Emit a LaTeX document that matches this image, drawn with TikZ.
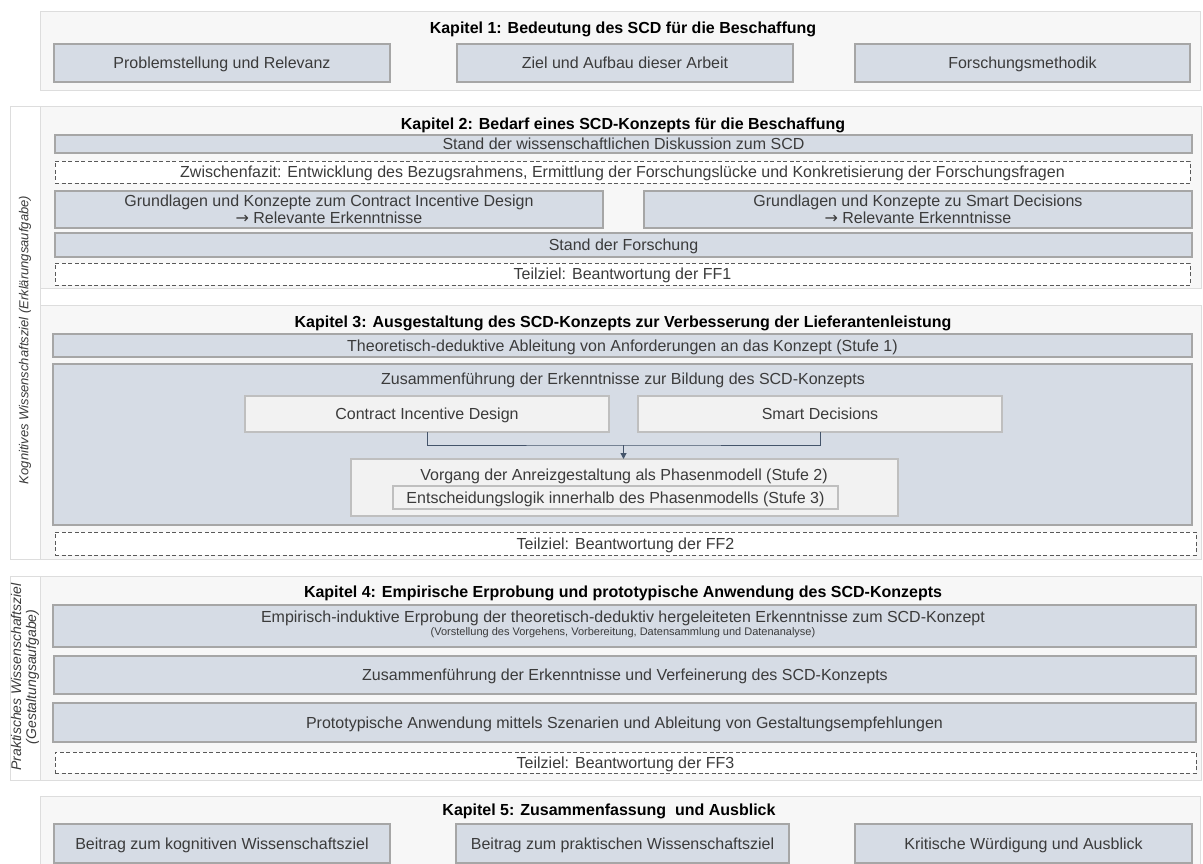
\documentclass[tikz,border=0pt]{standalone}
\usepackage{fontspec}
\setmainfont{Liberation Sans}
\newfontfamily\arrfont{DejaVu Sans}
\usetikzlibrary{arrows.meta}
\definecolor{panelfill}{HTML}{F7F7F7}
\definecolor{panelline}{HTML}{DDDDDD}
\definecolor{subfill}{HTML}{D6DCE5}
\definecolor{subline}{HTML}{A6A6A6}
\definecolor{lightfill}{HTML}{F2F2F2}
\definecolor{lightline}{HTML}{BFBFBF}
\definecolor{dashline}{HTML}{595959}
\definecolor{txt}{HTML}{3B3B3B}
\definecolor{connc}{HTML}{44546A}
\tikzset{
 area/.style args={#1/#2/#3/#4}{at={({(#1+#3)/2},{(#2+#4)/2})}, minimum width={(#3)-(#1)}, minimum height={(#4)-(#2)}},
 base/.style={rectangle, inner sep=0pt, outer sep=0pt, align=center, text=txt, font=\fontsize{16}{17}\selectfont},
 one/.style={text height=14.5pt, text depth=3.4pt},
 panel/.style={base, fill=panelfill, draw=panelline, line width=1pt},
 subtwo/.style={base, fill=subfill, draw=subline, line width=1.2pt},
 sub/.style={subtwo, one},
 light/.style={base, one, fill=lightfill, draw=lightline, line width=1.2pt},
 dashbox/.style={base, one, fill=white, draw=dashline, line width=0.9pt, dash pattern=on 4pt off 2.5pt},
 col/.style={base, fill=white, draw=panelline, line width=1pt},
 title/.style={font=\bfseries\fontsize{16}{18}\selectfont, text=black, inner sep=0pt, one},
 side/.style={rotate=90, font=\itshape\fontsize{13}{15}\selectfont, text=txt, align=center, inner sep=0pt},
 conn/.style={draw=connc, line width=1pt},
}
\begin{document}
\begin{tikzpicture}[x=1pt,y=-1pt]
\clip (0,0) rectangle (1203,864);
\fill[white] (0,0) rectangle (1203,864);
% Kapitel 1
\node[panel, area=40/12/1200/91] (k1) {};
\node[title] (k1t) at (623,28) {Kapitel 1: Bedeutung des SCD für die Beschaffung};
\node[sub, area=54/44/390/82] (k1a) {Problemstellung und Relevanz};
\node[sub, area=457/44/793/82] (k1b) {Ziel und Aufbau dieser Arbeit};
\node[sub, area=855/44/1190/82] (k1c) {Forschungsmethodik};
% Gruppe kognitiv
\node[col, area=10/107/40/559] (ca) {};
\node[side] (cat) at (25,340) {Kognitives Wissenschaftsziel (Erklärungsaufgabe)};
% Kapitel 2
\node[panel, area=40/107/1201/288] (k2) {};
\node[title] (k2t) at (623,124) {Kapitel 2: Bedarf eines SCD-Konzepts für die Beschaffung};
\node[sub, area=55/135/1192/153] (k2a) {Stand der wissenschaftlichen Diskussion zum SCD};
\node[dashbox, area=55/161/1190/183] (k2b) {Zwischenfazit: Entwicklung des Bezugsrahmens, Ermittlung der Forschungslücke und Konkretisierung der Forschungsfragen};
\node[subtwo, area=55/191/603/228] (k2c) {Grundlagen und Konzepte zum Contract Incentive Design\\{\arrfont →} Relevante Erkenntnisse};
\node[subtwo, area=644/191/1192/228] (k2d) {Grundlagen und Konzepte zu Smart Decisions\\{\arrfont →} Relevante Erkenntnisse};
\node[sub, area=55/233/1192/257] (k2e) {Stand der Forschung};
\node[dashbox, area=55/263/1190/285] (k2f) {Teilziel: Beantwortung der FF1};
% Kapitel 3
\node[panel, area=40/305/1201/559] (k3) {};
\node[title] (k3t) at (623,322) {Kapitel 3: Ausgestaltung des SCD-Konzepts zur Verbesserung der Lieferantenleistung};
\node[sub, area=53/334/1192/357] (k3a) {Theoretisch-deduktive Ableitung von Anforderungen an das Konzept (Stufe 1)};
\node[subtwo, area=53/364/1192/525] (k3b) {};
\node[base, one] (k3bt) at (623,379) {Zusammenführung der Erkenntnisse zur Bildung des SCD-Konzepts};
\node[light, area=245/396/609/432] (cid) {Contract Incentive Design};
\node[light, area=638/396/1002/432] (sd) {Smart Decisions};
\node[light, area=351/459/898/516] (vor) {};
\node[base, one] (vort) at (624,475) {Vorgang der Anreizgestaltung als Phasenmodell (Stufe 2)};
\node[light, area=393/486/838/509] (ent) {Entscheidungslogik innerhalb des Phasenmodells (Stufe 3)};
\coordinate (join) at (623.5,445);
\draw[conn] (cid.south) |- (join) -| (sd.south);
\draw[conn, -{Triangle[width=6pt,length=6pt]}] (join) -- (join |- vor.north);
\node[dashbox, area=55/532/1196/555] (k3c) {Teilziel: Beantwortung der FF2};
% Gruppe praktisch
\node[col, area=10/576/40/780] (cb) {};
\node[side, font=\itshape\fontsize{14}{15}\selectfont] (cbt) at (25,677) {Praktisches Wissenschaftsziel\\(Gestaltungsaufgabe)};
% Kapitel 4
\node[panel, area=40/576/1201/780] (k4) {};
\node[title] (k4t) at (623,592) {Kapitel 4: Empirische Erprobung und prototypische Anwendung des SCD-Konzepts};
\node[subtwo, area=53/605/1196/647] (k4a) {};
\node[base, one] (k4at) at (623,617) {Empirisch-induktive Erprobung der theoretisch-deduktiv hergeleiteten Erkenntnisse zum SCD-Konzept};
\node[base, font=\fontsize{11}{12}\selectfont] (k4as) at (623,633) {(Vorstellung des Vorgehens, Vorbereitung, Datensammlung und Datenanalyse)};
\node[sub, area=54/656/1196/694] (k4b) {Zusammenführung der Erkenntnisse und Verfeinerung des SCD-Konzepts};
\node[sub, area=53/703/1196/742] (k4c) {Prototypische Anwendung mittels Szenarien und Ableitung von Gestaltungsempfehlungen};
\node[dashbox, area=55/752/1196/773] (k4d) {Teilziel: Beantwortung der FF3};
% Kapitel 5
\node[panel, area=40/796/1200/880] (k5) {};
\node[title] (k5t) at (609,810) {Kapitel 5: Zusammenfassung\ \ und Ausblick};
\node[sub, area=54/824/390/863] (k5a) {Beitrag zum kognitiven Wissenschaftsziel};
\node[sub, area=456/824/789/863] (k5b) {Beitrag zum praktischen Wissenschaftsziel};
\node[sub, area=855/824/1192/863] (k5c) {Kritische Würdigung und Ausblick};
\end{tikzpicture}
\end{document}
